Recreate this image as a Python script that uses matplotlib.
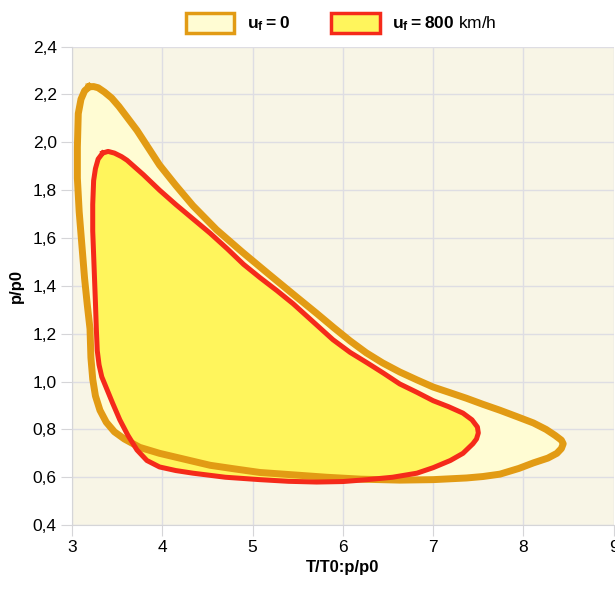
import matplotlib
matplotlib.use("Agg")
import matplotlib.pyplot as plt
from matplotlib.patches import Patch
from matplotlib.ticker import FuncFormatter

plt.rcParams['font.family'] = ['Liberation Sans', 'DejaVu Sans']
plt.rcParams['mathtext.fontset'] = 'custom'
plt.rcParams['mathtext.rm'] = 'Liberation Sans'
plt.rcParams['mathtext.bf'] = 'Liberation Sans:bold'

# u_f = 0 loop
x0 = [3.19, 3.24, 3.29, 3.36, 3.44, 3.52, 3.72, 3.97, 4.15, 4.34, 4.60, 4.89, 5.17,
      5.45, 5.71, 5.90, 6.08, 6.26, 6.44, 6.63, 6.82, 7.00, 7.19, 7.37, 7.55, 7.74,
      7.93, 8.11, 8.25, 8.35, 8.42, 8.44, 8.42, 8.37, 8.27, 8.11, 7.95, 7.74, 7.55,
      7.37, 7.00, 6.63, 6.20, 5.82, 5.45, 5.08, 4.80, 4.53, 4.25, 3.97, 3.75, 3.58,
      3.47, 3.38, 3.31, 3.26, 3.23, 3.21, 3.20, 3.17, 3.14, 3.11, 3.08, 3.06, 3.06,
      3.07, 3.10, 3.14]
y0 = [2.232, 2.233, 2.228, 2.21, 2.185, 2.15, 2.05, 1.905, 1.82, 1.735, 1.635, 1.54, 1.452,
      1.365, 1.285, 1.225, 1.17, 1.12, 1.078, 1.04, 1.007, 0.977, 0.953, 0.93, 0.905, 0.88,
      0.853, 0.827, 0.80, 0.775, 0.755, 0.74, 0.72, 0.70, 0.68, 0.66, 0.637, 0.613, 0.603,
      0.597, 0.59, 0.588, 0.592, 0.60, 0.61, 0.62, 0.635, 0.65, 0.675, 0.70, 0.725, 0.76,
      0.79, 0.83, 0.88, 0.94, 1.01, 1.10, 1.22, 1.32, 1.43, 1.57, 1.71, 1.85, 1.98,
      2.12, 2.18, 2.215]

# u_f = 800 km/h loop
x1 = [3.34, 3.40, 3.47, 3.55, 3.61, 3.79, 3.97, 4.15, 4.34, 4.53, 4.72, 4.90, 5.08,
      5.27, 5.45, 5.67, 5.89, 6.08, 6.27, 6.45, 6.63, 6.82, 7.00, 7.17, 7.33, 7.43,
      7.49, 7.50, 7.48, 7.44, 7.33, 7.19, 7.00, 6.82, 6.55, 6.27, 6.00, 5.71, 5.40,
      5.08, 4.70, 4.34, 4.15, 3.97, 3.83, 3.72, 3.62, 3.53, 3.45, 3.39, 3.33, 3.30,
      3.28, 3.27, 3.26, 3.25, 3.24, 3.23, 3.23, 3.24, 3.26, 3.29]
y1 = [1.955, 1.962, 1.955, 1.94, 1.925, 1.865, 1.80, 1.74, 1.68, 1.62, 1.555, 1.49, 1.435,
      1.38, 1.325, 1.25, 1.175, 1.122, 1.078, 1.035, 0.99, 0.955, 0.92, 0.895, 0.868, 0.84,
      0.81, 0.785, 0.76, 0.74, 0.70, 0.67, 0.64, 0.617, 0.60, 0.59, 0.582, 0.58, 0.583,
      0.59, 0.60, 0.617, 0.628, 0.643, 0.67, 0.714, 0.775, 0.84, 0.91, 0.965, 1.02, 1.07,
      1.13, 1.22, 1.33, 1.43, 1.53, 1.63, 1.74, 1.84, 1.89, 1.93]

xticks = [3, 4, 5, 6, 7, 8, 9]
yticks = [0.4, 0.6, 0.8, 1.0, 1.2, 1.4, 1.6, 1.8, 2.0, 2.2, 2.4]

c0_edge, c0_fill = "#e29b14", "#fffcd3"
c1_edge, c1_fill = "#f52a1a", "#fff55c"

fig = plt.figure(figsize=(6.15, 5.9), dpi=100)
ax = fig.add_axes([0.117, 0.11, 0.881, 0.811])
ax.set_facecolor("#f8f5e6")

ax.fill(x0, y0, color=c0_fill, zorder=2)
ax.fill(x1, y1, color=c1_fill, zorder=3)
ax.plot(x0 + x0[:1], y0 + y0[:1], color=c0_edge, lw=5, solid_joinstyle='round', zorder=4)
ax.plot(x1 + x1[:1], y1 + y1[:1], color=c1_edge, lw=3.6, solid_joinstyle='round', zorder=5)

ax.set_xlim(3, 9)
ax.set_ylim(0.4, 2.4)
ax.set_xticks(xticks)
ax.set_yticks(yticks)
ax.yaxis.set_major_formatter(FuncFormatter(lambda v, p: f"{v:.1f}".replace(".", ",")))
ax.grid(True, color="#dedde3", lw=1, zorder=0)
ax.set_axisbelow(True)
for s in ["top", "right"]:
    ax.spines[s].set_visible(False)
for s in ["left", "bottom"]:
    ax.spines[s].set_color("#d5d5d8")
ax.tick_params(length=8, color="#d5d5d8", labelsize=12.5, pad=3)

ax.set_xlabel("T/T0:p/p0", fontsize=12, fontweight="bold", labelpad=3)
ax.set_ylabel("p/p0", fontsize=12, fontweight="bold", labelpad=6)

handles = [Patch(facecolor=c0_fill, edgecolor=c0_edge, lw=2.5),
           Patch(facecolor=c1_fill, edgecolor=c1_edge, lw=2.5)]
labels = [r"$\mathbf{u_f = 0}$", r"$\mathbf{u_f = 800}$ km/h"]
fig.legend(handles, labels, loc="upper center", bbox_to_anchor=(0.555, 1.005), ncol=2,
           frameon=False, fontsize=12.5, handlelength=2.8, handleheight=1.4,
           columnspacing=2.4, handletextpad=0.7)

fig.savefig("out.png", dpi=100)
